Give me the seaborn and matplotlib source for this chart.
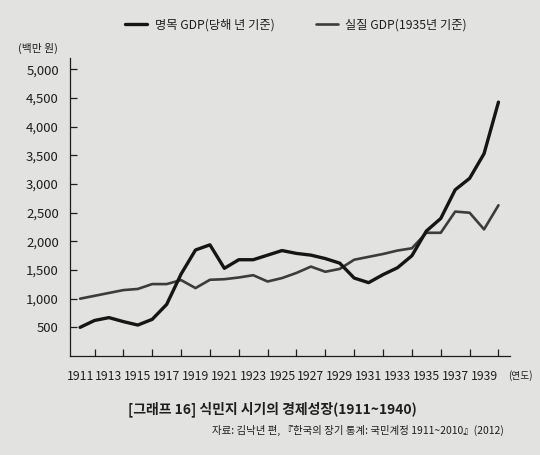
import matplotlib
matplotlib.use('Agg')
import matplotlib.pyplot as plt
import matplotlib.ticker as mticker
import seaborn as sns
import pandas as pd

years = list(range(1911, 1941))
nominal_gdp = [500, 620, 670, 600, 540, 640, 900, 1430, 1850, 1940,
               1530, 1680, 1680, 1760, 1840, 1790, 1760, 1700, 1620, 1360,
               1280, 1420, 1540, 1750, 2180, 2400, 2900, 3100, 3530, 4430]
real_gdp = [1000, 1050, 1100, 1150, 1170, 1255, 1255, 1325, 1185, 1330,
            1340, 1370, 1410, 1300, 1360, 1450, 1560, 1470, 1520, 1680,
            1730, 1780, 1840, 1880, 2150, 2150, 2520, 2500, 2210, 2630]
series_names = ['명목 GDP(당해 년 기준)', '실질 GDP(1935년 기준)']
y_ticks = [500, 1000, 1500, 2000, 2500, 3000, 3500, 4000, 4500, 5000]
x_labels = list(range(1911, 1940, 2))

bg = '#e2e2e0'
ink = '#1e1e1e'

sns.set_theme(style='ticks')
plt.rcParams['font.family'] = ['Noto Sans CJK KR', 'DejaVu Sans']

fig = plt.figure(figsize=(5.4, 4.55), dpi=100, facecolor=bg)
ax = fig.add_axes([70 / 540, 1 - 356 / 455, 440 / 540, 298 / 455])
ax.set_facecolor(bg)

df = pd.DataFrame({'year': years, 'nominal': nominal_gdp, 'real': real_gdp})

sns.lineplot(data=df, x='year', y='real', ax=ax, color='#3c3c3c',
             linewidth=1.9, label=series_names[1],
             solid_joinstyle='round', solid_capstyle='round')
sns.lineplot(data=df, x='year', y='nominal', ax=ax, color='#151515',
             linewidth=2.4, label=series_names[0],
             solid_joinstyle='round', solid_capstyle='round')

ax.set_xlim(1910.3, 1940.8)
ax.set_ylim(0, 5200)
ax.set_xlabel('')
ax.set_ylabel('')

ax.set_yticks(y_ticks)
ax.yaxis.set_major_formatter(mticker.FuncFormatter(lambda v, p: f'{int(v):,}'))
ax.tick_params(axis='y', direction='in', length=5, width=0.9, colors=ink,
               labelsize=9.5, pad=8)

ax.set_xticks(x_labels)
ax.set_xticklabels([str(y) for y in x_labels])
ax.set_xticks(list(range(1912, 1941, 2)), minor=True)
ax.tick_params(axis='x', which='major', length=0, labelsize=8.8, pad=10, colors=ink)
ax.tick_params(axis='x', which='minor', direction='in', length=5, width=0.9, color=ink)

sns.despine(ax=ax)
for s in ['left', 'bottom']:
    ax.spines[s].set_color(ink)
    ax.spines[s].set_linewidth(0.9)

handles, labels = ax.get_legend_handles_labels()
ax.get_legend().remove()
fig.legend(handles[::-1], labels[::-1], loc='center', bbox_to_anchor=(296 / 540, 1 - 25 / 455),
           ncol=2, frameon=False, fontsize=8.8, handlelength=1.8,
           columnspacing=3.4, handletextpad=0.6, labelcolor=ink)

fig.text(38 / 540, 1 - 48 / 455, '(백만 원)', ha='center', va='center',
         fontsize=7.8, color=ink)
fig.text(520 / 540, 1 - 376 / 455, '(연도)', ha='center', va='center',
         fontsize=7, color=ink)
fig.text(272 / 540, 1 - 409 / 455, '[그래프 16] 식민지 시기의 경제성장(1911~1940)',
         ha='center', va='center', fontsize=10, fontweight='bold', color=ink)
fig.text(504 / 540, 1 - 430 / 455,
         '자료: 김낙년 편, 『한국의 장기 통계: 국민계정 1911~2010』(2012)',
         ha='right', va='center', fontsize=7.5, color=ink)

fig.savefig('out.png', dpi=100, facecolor=bg)
